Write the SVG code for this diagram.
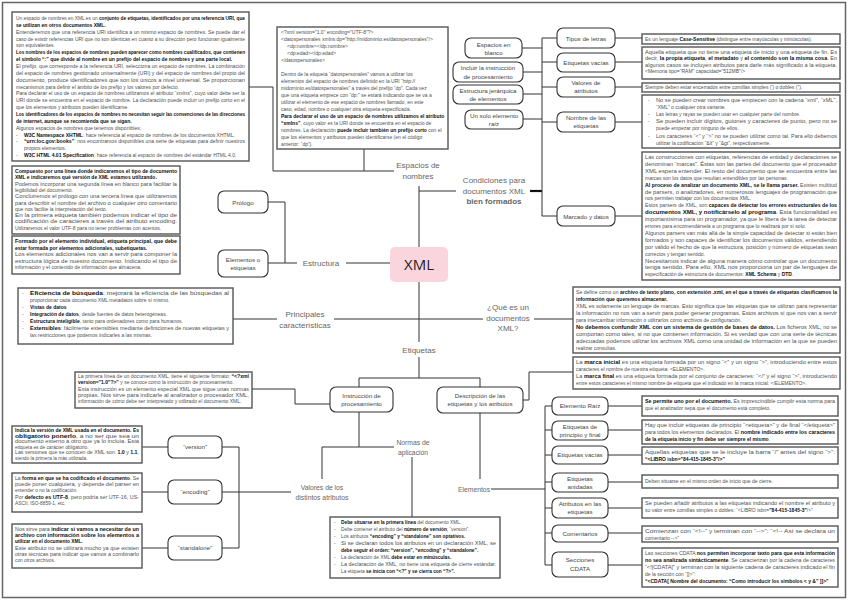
<svg xmlns="http://www.w3.org/2000/svg" width="848" height="600" viewBox="0 0 848 600">
<style>
.frame{fill:#fff;stroke:#666;stroke-width:1.5}
.d{fill:#fff;stroke:#555;stroke-width:1.4}
.n{fill:#fff;stroke:#333;stroke-width:1.1}
.c{fill:none;stroke:#333;stroke-width:1}
.t{font-family:"Liberation Sans",Arial,sans-serif;font-size:5px;fill:#505050}
.t5{font-family:"Liberation Sans",Arial,sans-serif;font-size:4.8px;fill:#505050}
.b{font-weight:bold;fill:#111}
.nt{font-family:"Liberation Sans",Arial,sans-serif;font-size:6.2px;fill:#444;text-anchor:middle}
.lb{font-family:"Liberation Sans",Arial,sans-serif;font-size:8px;fill:#666;text-anchor:middle}
.ls{font-family:"Liberation Sans",Arial,sans-serif;font-size:6.8px;fill:#666;text-anchor:middle}
</style>
<rect class="frame" x="2.5" y="2.5" width="843" height="595"/>

<g id="connectors" class="c">
<polyline points="249,87 273,87 273,171 394,171"/>
<line x1="364" y1="148" x2="364" y2="171"/>
<line x1="419" y1="186" x2="419" y2="247"/>
<line x1="419" y1="282" x2="419" y2="342"/>
<line x1="419" y1="191" x2="456" y2="191"/>
<line x1="530" y1="191" x2="542" y2="191" stroke-width="2.2" stroke="#111"/>
<line x1="542" y1="38" x2="542" y2="216"/>
<line x1="522" y1="48" x2="542" y2="48"/>
<line x1="523" y1="72" x2="542" y2="72"/>
<line x1="523" y1="94" x2="542" y2="94"/>
<line x1="523" y1="119" x2="542" y2="119"/>
<line x1="542" y1="38" x2="557" y2="38"/>
<line x1="542" y1="62" x2="557" y2="62"/>
<line x1="542" y1="87" x2="557" y2="87"/>
<line x1="542" y1="122" x2="557" y2="122"/>
<line x1="542" y1="216" x2="557" y2="216"/>
<line x1="615" y1="38" x2="642" y2="38"/>
<line x1="615" y1="62" x2="642" y2="62"/>
<line x1="615" y1="87" x2="642" y2="87"/>
<line x1="615" y1="122" x2="642" y2="122"/>
<line x1="615" y1="216" x2="642" y2="216"/>
<line x1="268" y1="202" x2="285" y2="202"/>
<line x1="285" y1="202" x2="285" y2="263"/>
<line x1="268" y1="263" x2="297" y2="263"/>
<line x1="346" y1="263" x2="390" y2="263"/>
<line x1="233" y1="319" x2="277" y2="319"/>
<line x1="334" y1="319" x2="483" y2="319"/>
<line x1="534" y1="319" x2="573" y2="319"/>
<line x1="419" y1="357" x2="419" y2="378"/>
<polyline points="359,387 359,378 480,378 480,387"/>
<polyline points="252,389 295,389 295,404 330,404"/>
<line x1="359" y1="412" x2="359" y2="447"/>
<line x1="322" y1="447" x2="394" y2="447"/>
<line x1="322" y1="447" x2="322" y2="479"/>
<line x1="412" y1="457" x2="412" y2="517"/>
<line x1="222" y1="492" x2="291" y2="492"/>
<line x1="239" y1="447" x2="239" y2="548"/>
<line x1="222" y1="447" x2="239" y2="447"/>
<line x1="222" y1="548" x2="239" y2="548"/>
<line x1="142" y1="447" x2="168" y2="447"/>
<line x1="142" y1="492" x2="168" y2="492"/>
<line x1="142" y1="548" x2="168" y2="548"/>
<polyline points="523,400 529,400 529,372 573,372"/>
<line x1="480" y1="413" x2="480" y2="479"/>
<line x1="491" y1="489" x2="545" y2="489"/>
<line x1="545" y1="406" x2="545" y2="565"/>
<line x1="545" y1="406" x2="552" y2="406"/>
<line x1="545" y1="430" x2="552" y2="430"/>
<line x1="545" y1="455" x2="552" y2="455"/>
<line x1="545" y1="482" x2="552" y2="482"/>
<line x1="545" y1="508" x2="552" y2="508"/>
<line x1="545" y1="533" x2="552" y2="533"/>
<line x1="545" y1="565" x2="552" y2="565"/>
<line x1="608" y1="406" x2="642" y2="406"/>
<line x1="608" y1="430" x2="642" y2="430"/>
<line x1="608" y1="455" x2="642" y2="455"/>
<line x1="608" y1="482" x2="642" y2="482"/>
<line x1="608" y1="508" x2="642" y2="508"/>
<line x1="608" y1="533" x2="642" y2="533"/>
<line x1="608" y1="565" x2="642" y2="565"/>
</g>

<g id="xml">
<rect x="390" y="247" width="58" height="35" rx="5" fill="#fad5dd"/>
<text x="419" y="270" font-family="Open Sans,Liberation Sans,sans-serif" font-size="15" fill="#222" text-anchor="middle">XML</text>
</g>

<g id="labels">
<text class="lb" x="418" y="168">Espacios de</text><text class="lb" x="418" y="178.5">nombres</text>
<text class="lb" x="494" y="183">Condiciones para</text><text class="lb" x="494" y="193.5">documentos XML</text><text class="lb" x="494" y="204" font-weight="bold" fill="#111">bien formados</text>
<text class="lb" x="321" y="266">Estructura</text>
<text class="lb" x="305" y="317">Principales</text><text class="lb" x="305" y="327.5">características</text>
<text class="lb" x="508" y="310">¿Qué es un</text><text class="lb" x="508" y="320.5">documentos</text><text class="lb" x="508" y="331">XML?</text>
<text class="lb" x="419" y="353" font-size="8.5">Etiquetas</text>
<text class="ls" x="413" y="445">Normas de</text><text class="ls" x="413" y="454.5">aplicación</text>
<text class="ls" x="322" y="490">Valores de los</text><text class="ls" x="322" y="499.5">distintos atributos</text>
<text class="ls" x="474" y="491.5">Elementos</text>
</g>

<g id="n-prologo"><rect class="n" x="218" y="191" width="50" height="22" rx="6"/><text class="nt" x="243" y="204.5">Prólogo</text></g>
<g id="n-elem-etiq"><rect class="n" x="218" y="250" width="50" height="27" rx="6"/><text class="nt" x="243" y="261.5">Elementos o</text><text class="nt" x="243" y="270">etiquetas</text></g>
<g id="n-espacios"><rect class="n" x="465" y="38" width="57" height="20" rx="6"/><text class="nt" x="493.5" y="46.5">Espacios en</text><text class="nt" x="493.5" y="54.5">blanco</text></g>
<g id="n-incluir"><rect class="n" x="453" y="62" width="70" height="20" rx="6"/><text class="nt" x="488" y="70">Incluir la instrucción</text><text class="nt" x="488" y="78.5">de procesamiento</text></g>
<g id="n-jerarquica"><rect class="n" x="453" y="85" width="70" height="19" rx="6"/><text class="nt" x="488" y="92.5">Estructura jerárquica</text><text class="nt" x="488" y="100.5">de elementos</text></g>
<g id="n-raiz1"><rect class="n" x="465" y="110" width="58" height="19" rx="6"/><text class="nt" x="494" y="117.5">Un solo elemento</text><text class="nt" x="494" y="125.5">raíz</text></g>
<g id="n-tipos"><rect class="n" x="557" y="28" width="58" height="20" rx="6"/><text class="nt" x="586" y="40.5">Tipos de letras</text></g>
<g id="n-vacias1"><rect class="n" x="557" y="53" width="58" height="19" rx="6"/><text class="nt" x="586" y="64.5">Etiquetas vacías</text></g>
<g id="n-valores"><rect class="n" x="557" y="77" width="58" height="20" rx="6"/><text class="nt" x="586" y="85">Valores de</text><text class="nt" x="586" y="93">atributos</text></g>
<g id="n-nombre"><rect class="n" x="557" y="112" width="58" height="20" rx="6"/><text class="nt" x="586" y="120">Nombre de las</text><text class="nt" x="586" y="128">etiquetas</text></g>
<g id="n-marcado"><rect class="n" x="557" y="206" width="58" height="20" rx="6"/><text class="nt" x="586" y="218.5">Marcado y datos</text></g>
<g id="n-instruccion"><rect class="n" x="330" y="387" width="63" height="25" rx="6"/><text class="nt" x="361.5" y="397.5">Instrucción de</text><text class="nt" x="361.5" y="405.5">procesamiento</text></g>
<g id="n-descripcion"><rect class="n" x="437" y="387" width="86" height="26" rx="6"/><text class="nt" x="480" y="397.5">Descripción de las</text><text class="nt" x="480" y="406">etiquetas y los atributos</text></g>
<g id="n-version"><rect class="n" x="168" y="436" width="54" height="22" rx="6"/><text class="nt" x="195" y="449">“version”</text></g>
<g id="n-encoding"><rect class="n" x="168" y="480" width="54" height="24" rx="6"/><text class="nt" x="195" y="494">“encoding”</text></g>
<g id="n-standalone"><rect class="n" x="168" y="536" width="54" height="24" rx="6"/><text class="nt" x="195" y="550">“standalone”</text></g>
<g id="n-raiz"><rect class="n" x="552" y="397" width="56" height="18" rx="6"/><text class="nt" x="580" y="408">Elemento Raíz</text></g>
<g id="n-principio"><rect class="n" x="552" y="421" width="56" height="19" rx="6"/><text class="nt" x="580" y="428.5">Etiquetas de</text><text class="nt" x="580" y="436.5">principio y final</text></g>
<g id="n-vacias2"><rect class="n" x="552" y="446" width="56" height="18" rx="6"/><text class="nt" x="580" y="457">Etiquetas vacías</text></g>
<g id="n-anidadas"><rect class="n" x="552" y="473" width="56" height="19" rx="6"/><text class="nt" x="580" y="480.5">Etiquetas</text><text class="nt" x="580" y="488.5">anidadas</text></g>
<g id="n-atributos"><rect class="n" x="552" y="498" width="56" height="20" rx="6"/><text class="nt" x="580" y="506">Atributos en las</text><text class="nt" x="580" y="514">etiquetas</text></g>
<g id="n-comentarios"><rect class="n" x="552" y="525" width="56" height="17" rx="6"/><text class="nt" x="580" y="535.5">Comentarios</text></g>
<g id="n-cdata"><rect class="n" x="552" y="552" width="56" height="25" rx="6"/><text class="nt" x="580" y="562">Secciones</text><text class="nt" x="580" y="571">CDATA</text></g>

<g id="d-namespace">
<rect class="d" x="12" y="12" width="237" height="149"/>
<text class="t" x="16" y="20" textLength="229" lengthAdjust="spacingAndGlyphs">Un espacio de nombres en XML es un <tspan class="b">conjunto de etiquetas, identificados por una referencia URI, que</tspan></text>
<text class="t" x="16" y="26.9"><tspan class="b">se utilizan en otros documentos XML.</tspan></text>
<text class="t" x="16" y="33.7" textLength="229" lengthAdjust="spacingAndGlyphs">Entenderemos que una referencia URI identifica a un mismo espacio de nombres. Se puede dar el</text>
<text class="t" x="16" y="40.6" textLength="229" lengthAdjust="spacingAndGlyphs">caso de existir referencias URI que no son idénticas en cuanto a su dirección pero funcionan igualmente</text>
<text class="t" x="16" y="47.4">son equivalentes.</text>
<text class="t" x="16" y="54.3" textLength="229" lengthAdjust="spacingAndGlyphs"><tspan class="b">Los nombres de los espacios de nombres pueden aparecer como nombres cualificados, que contienen</tspan></text>
<text class="t" x="16" y="61.1"><tspan class="b">el símbolo “:” que divide al nombre en un prefijo del espacio de nombres y una parte local.</tspan></text>
<text class="t" x="16" y="68" textLength="229" lengthAdjust="spacingAndGlyphs">El prefijo, que corresponde a la referencia URI, selecciona un espacio de nombres. La combinación</text>
<text class="t" x="16" y="74.8" textLength="229" lengthAdjust="spacingAndGlyphs">del espacio de nombres gestionado universalmente (URI) y del espacio de nombres del propio del</text>
<text class="t" x="16" y="81.7" textLength="229" lengthAdjust="spacingAndGlyphs">documento, produce identificadores que son los únicos a nivel universal. Se proporcionan</text>
<text class="t" x="16" y="88.5">mecanismos para definir el ámbito de los prefijo y los valores por defecto.</text>
<text class="t" x="16" y="95.4" textLength="229" lengthAdjust="spacingAndGlyphs">Para declarar el uso de un espacio de nombres utilizamos el atributo “xmlns”, cuyo valor debe ser la</text>
<text class="t" x="16" y="102.2" textLength="229" lengthAdjust="spacingAndGlyphs">URI donde se encuentra en el espacio de nombre. La declaración puede incluir un prefijo corto en el</text>
<text class="t" x="16" y="109.1">que los elementos y atributos pueden identificarse.</text>
<text class="t" x="16" y="115.9" textLength="229" lengthAdjust="spacingAndGlyphs"><tspan class="b">Los identificadores de los espacios de nombres no necesitan seguir las convenciones de las direcciones</tspan></text>
<text class="t" x="16" y="122.8"><tspan class="b">de internet, aunque se recomienda que se sigan.</tspan></text>
<text class="t" x="16" y="129.6">Algunos espacios de nombres que tenemos disponibles:</text>
<text class="t" x="16" y="136.5">-</text><text class="t" x="24" y="136.5"><tspan class="b">W3C Namespace XHTML</tspan>: hace referencia al espacio de nombres de los documentos XHTML.</text>
<text class="t" x="16" y="143.3">-</text><text class="t" x="24" y="143.3" textLength="221" lengthAdjust="spacingAndGlyphs"><tspan class="b">“urn:loc.gov:books”</tspan>: nos encontramos disponibles una serie de etiquetas para definir nuestros</text>
<text class="t" x="24" y="150.2">propios elementos.</text>
<text class="t" x="16" y="157">-</text><text class="t" x="24" y="157"><tspan class="b">W3C HTML 4.01 Specification</tspan>: hace referencia al espacio de nombres del estándar HTML 4.0.</text>
</g>

<g id="d-code">
<rect class="d" x="277" y="27" width="171" height="122"/>
<text class="t" x="281" y="34">&lt;?xml version="1.0" encoding="UTF-8"?&gt;</text>
<text class="t" x="281" y="41">&lt;datospersonales xmlns:dp="http://midominio.es/datospersonales"/&gt;</text>
<text class="t" x="287" y="48">&lt;dp:nombre&gt;&lt;/dp:nombre&gt;</text>
<text class="t" x="287" y="55">&lt;dp:edad&gt;&lt;/dp:edad&gt;</text>
<text class="t" x="281" y="62">&lt;/datospersonales&gt;</text>
<text class="t" x="281" y="76">Dentro de la etiqueta “datospersonales” vamos a utilizar los</text>
<text class="t" x="281" y="83">elementos del espacio de nombres definido en la URI “http://</text>
<text class="t" x="281" y="90">midominio.es/datospersonales” a través del prefijo “dp”. Cada vez</text>
<text class="t" x="281" y="97">que una etiqueta empiece con “dp:” se estará indicando que se va a</text>
<text class="t" x="281" y="104">utilizar el elemento de ese espacio de nombres llamado, en este</text>
<text class="t" x="281" y="111">caso, edad, nombre o cualquier otra etiqueta especificada.</text>
<text class="t" x="281" y="118"><tspan class="b">Para declarar el uso de un espacio de nombres utilizamos el atributo</tspan></text>
<text class="t" x="281" y="125"><tspan class="b">“xmlns”</tspan>, cuyo valor es la URI donde se encuentra en el espacio de</text>
<text class="t" x="281" y="132">nombres. La declaración <tspan class="b">puede incluir también un prefijo corto</tspan> con el</text>
<text class="t" x="281" y="139">que los elementos y atributos pueden identificarse (en el código</text>
<text class="t" x="281" y="146">anterior: “dp”).</text>
</g>

<g id="d-prologo">
<rect class="d" x="12" y="166" width="168" height="68"/>
<text class="t" x="15" y="173" textLength="162" lengthAdjust="spacingAndGlyphs"><tspan class="b">Compuesto por una línea donde indicaremos el tipo de documento</tspan></text>
<text class="t" x="15" y="179.3"><tspan class="b">XML e indicaremos qué versión de XML estamos utilizando.</tspan></text>
<text class="t" x="15" y="185.6" textLength="162" lengthAdjust="spacingAndGlyphs">Podemos incorporar una segunda línea en blanco para facilitar la</text>
<text class="t" x="15" y="191.9">legibilidad del documento.</text>
<text class="t" x="15" y="198.2" textLength="162" lengthAdjust="spacingAndGlyphs">Concluiremos el prólogo con una tercera línea que utilizaremos</text>
<text class="t" x="15" y="204.5" textLength="162" lengthAdjust="spacingAndGlyphs">para describir el nombre del archivo o cualquier otro comentario</text>
<text class="t" x="15" y="210.8">que nos facilite la interpretación del texto.</text>
<text class="t" x="15" y="217.1" textLength="162" lengthAdjust="spacingAndGlyphs">En la primera etiqueta también podemos indicar el tipo de</text>
<text class="t" x="15" y="223.4" textLength="162" lengthAdjust="spacingAndGlyphs">codificación de caracteres a través del atributo encoding.</text>
<text class="t" x="15" y="229.7">Utilizaremos el valor UTF-8 para no tener problemas con acentos.</text>
</g>

<g id="d-elementos">
<rect class="d" x="12" y="236" width="168" height="38"/>
<text class="t" x="15" y="243" textLength="162" lengthAdjust="spacingAndGlyphs"><tspan class="b">Formado por el elemento individual, etiqueta principal, que debe</tspan></text>
<text class="t" x="15" y="249.5"><tspan class="b">estar formada por elementos adicionales, subetiquetas.</tspan></text>
<text class="t" x="15" y="256" textLength="162" lengthAdjust="spacingAndGlyphs">Los elementos adicionales nos van a servir para componer la</text>
<text class="t" x="15" y="262.5" textLength="162" lengthAdjust="spacingAndGlyphs">estructura lógica de nuestro documento. Indicando el tipo de</text>
<text class="t" x="15" y="269">información y el contenido de información que almacena.</text>
</g>

<g id="d-principales">
<rect class="d" x="18" y="288" width="215" height="56"/>
<text class="t" x="22" y="295">-</text><text class="t" x="30" y="295" textLength="199" lengthAdjust="spacingAndGlyphs"><tspan class="b">Eficiencia de búsqueda</tspan>: mejorará la eficiencia de las búsquedas al</text>
<text class="t" x="30" y="302">proporcionar cada documento XML metadatos sobre sí mismo.</text>
<text class="t" x="22" y="309">-</text><text class="t" x="30" y="309"><tspan class="b">Vistas de datos</tspan></text>
<text class="t" x="22" y="316">-</text><text class="t" x="30" y="316"><tspan class="b">Integración de datos</tspan>, desde fuentes de datos heterogéneas.</text>
<text class="t" x="22" y="323">-</text><text class="t" x="30" y="323"><tspan class="b">Estructura inteligible</tspan>, tanto para ordenadores como para humanos.</text>
<text class="t" x="22" y="330">-</text><text class="t" x="30" y="330" textLength="199" lengthAdjust="spacingAndGlyphs"><tspan class="b">Extensibles</tspan>: fácilmente extensibles mediante definiciones de nuevas etiquetas y</text>
<text class="t" x="30" y="337">las restricciones que podemos indicarles a las mismas.</text>
</g>

<g id="d-instruccion">
<rect class="d" x="75" y="372" width="177" height="36"/>
<text class="t" x="78" y="378" textLength="171" lengthAdjust="spacingAndGlyphs">La primera línea de un documento XML, tiene el siguiente formato: <tspan class="b">“&lt;?xml</tspan></text>
<text class="t" x="78" y="384.3"><tspan class="b">version="1.0"?&gt;”</tspan> y se conoce como la instrucción de procesamiento.</text>
<text class="t" x="78" y="390.6" textLength="171" lengthAdjust="spacingAndGlyphs">Esta instrucción es un elemento especial XML que sigue unas normas</text>
<text class="t" x="78" y="396.9" textLength="171" lengthAdjust="spacingAndGlyphs">propias. Nos sirve para indicarle al analizador o procesador XML,</text>
<text class="t" x="78" y="403.2">información de cómo debe ser interpretado y utilizado el documento XML.</text>
</g>

<g id="d-version">
<rect class="d" x="12" y="426" width="130" height="37"/>
<text class="t5" x="15" y="432" textLength="124" lengthAdjust="spacingAndGlyphs"><tspan class="b">Indica la versión de XML usada en el documento. Es</tspan></text>
<text class="t5" x="15" y="437.6" textLength="124" lengthAdjust="spacingAndGlyphs"><tspan class="b">obligatorio ponerlo</tspan>, a no ser que sea un</text>
<text class="t5" x="15" y="443.2" textLength="124" lengthAdjust="spacingAndGlyphs">documento externo a otro que ya lo incluía. Esta</text>
<text class="t5" x="15" y="448.8">etiqueta es de carácter obligatorio.</text>
<text class="t5" x="15" y="454.4" textLength="124" lengthAdjust="spacingAndGlyphs">Las versiones que se conocen de XML son: <tspan class="b">1.0</tspan> y <tspan class="b">1.1</tspan>,</text>
<text class="t5" x="15" y="460">siendo la primera la más utilizada.</text>
</g>

<g id="d-encoding">
<rect class="d" x="12" y="473" width="130" height="39"/>
<text class="t5" x="15" y="480" textLength="124" lengthAdjust="spacingAndGlyphs">La <tspan class="b">forma en que se ha codificado el documento</tspan>. Se</text>
<text class="t5" x="15" y="486.2" textLength="124" lengthAdjust="spacingAndGlyphs">puede poner cualquiera, y depende del parser en</text>
<text class="t5" x="15" y="492.4">entender o no la codificación.</text>
<text class="t5" x="15" y="498.6" textLength="124" lengthAdjust="spacingAndGlyphs">Por <tspan class="b">defecto es UTF-8</tspan>, pero podría ser UTF-16, US-</text>
<text class="t5" x="15" y="504.8">ASCII, ISO-8859-1, etc.</text>
</g>

<g id="d-standalone">
<rect class="d" x="12" y="524" width="130" height="44"/>
<text class="t5" x="15" y="531" textLength="124" lengthAdjust="spacingAndGlyphs">Nos sirve para <tspan class="b">indicar si vamos a necesitar de un</tspan></text>
<text class="t5" x="15" y="537.2" textLength="124" lengthAdjust="spacingAndGlyphs"><tspan class="b">archivo con información sobre los elementos a</tspan></text>
<text class="t5" x="15" y="543.4"><tspan class="b">utilizar en el documento XML.</tspan></text>
<text class="t5" x="15" y="549.6" textLength="124" lengthAdjust="spacingAndGlyphs">Este atributo no se utilizará mucho ya que existen</text>
<text class="t5" x="15" y="555.8" textLength="124" lengthAdjust="spacingAndGlyphs">otras técnicas para indicar que vamos a combinarlo</text>
<text class="t5" x="15" y="562">con otros archivos.</text>
</g>

<g id="d-normas">
<rect class="d" x="330" y="517" width="170" height="61"/>
<text class="t5" x="334" y="524">-</text><text class="t5" x="341" y="524"><tspan class="b">Debe situarse en la primera línea</tspan> del documento XML.</text>
<text class="t5" x="334" y="531">-</text><text class="t5" x="341" y="531">Debe contener el atributo del <tspan class="b">número de versión</tspan>, “version”.</text>
<text class="t5" x="334" y="538">-</text><text class="t5" x="341" y="538">Los atributos <tspan class="b">“encoding” y “standalone” son optativos.</tspan></text>
<text class="t5" x="334" y="545">-</text><text class="t5" x="341" y="545" textLength="155" lengthAdjust="spacingAndGlyphs">Si se declaran todos los atributos en un declaración XML, se</text>
<text class="t5" x="341" y="552"><tspan class="b">debe seguir el orden: “version”, “encoding” y “standalone”.</tspan></text>
<text class="t5" x="334" y="559">-</text><text class="t5" x="341" y="559">La declaración de XML <tspan class="b">debe estar en minúsculas.</tspan></text>
<text class="t5" x="334" y="566">-</text><text class="t5" x="341" y="566" textLength="155" lengthAdjust="spacingAndGlyphs">La declaración de XML, no tiene una etiqueta de cierre estándar.</text>
<text class="t5" x="341" y="573">La etiqueta <tspan class="b">se inicia con “&lt;?” y se cierra con “?&gt;”.</tspan></text>
</g>

<g id="d-case">
<rect class="d" x="642" y="34" width="198" height="10"/>
<text class="t" x="645" y="40.8">Es un lenguaje <tspan class="b">Case-Sensitive</tspan> (distingue entre mayúsculas y minúsculas).</text>
</g>

<g id="d-vacias1">
<rect class="d" x="642" y="47" width="198" height="32"/>
<text class="t" x="645" y="53.5" textLength="192" lengthAdjust="spacingAndGlyphs">Aquella etiqueta que no tiene una etiqueta de inicio y una etiqueta de fin. Es</text>
<text class="t" x="645" y="60.1" textLength="192" lengthAdjust="spacingAndGlyphs">decir, <tspan class="b">la propia etiqueta</tspan>, <tspan class="b">el metadato</tspan> y <tspan class="b">el contenido son la misma cosa</tspan>. En</text>
<text class="t" x="645" y="66.7" textLength="192" lengthAdjust="spacingAndGlyphs">algunos casos se incluyen atributos para darle más significado a la etiqueta.</text>
<text class="t" x="645" y="73.3">&lt;Memoria tipo="RAM" capacidad="512MB"/&gt;</text>
</g>

<g id="d-valores">
<rect class="d" x="642" y="83" width="198" height="9"/>
<text class="t" x="645" y="89.4">Siempre deben estar encerrados entre comillas simples (') o dobles (").</text>
</g>

<g id="d-nombre">
<rect class="d" x="642" y="95" width="198" height="53"/>
<text class="t" x="648" y="101.6">-</text><text class="t" x="656" y="101.6" textLength="181" lengthAdjust="spacingAndGlyphs">No se pueden crear nombres que empiecen con la cadena “xml”, “xML”,</text>
<text class="t" x="656" y="108.8">“XML” o cualquier otra variante.</text>
<text class="t" x="648" y="116">-</text><text class="t" x="656" y="116">Las letras y rayas se pueden usar en cualquier parte del nombre.</text>
<text class="t" x="648" y="123.2">-</text><text class="t" x="656" y="123.2" textLength="181" lengthAdjust="spacingAndGlyphs">Se pueden incluir dígitos, guiones y caracteres de punto, pero no se</text>
<text class="t" x="656" y="130.4">puede empezar por ninguno de ellos.</text>
<text class="t" x="648" y="137.6">-</text><text class="t" x="656" y="137.6" textLength="181" lengthAdjust="spacingAndGlyphs">Los caracteres “&lt;” y “&gt;” no se pueden utilizar como tal. Para ello debemos</text>
<text class="t" x="656" y="144.8">utilizar la codificación “&amp;lt” y “&amp;gt”, respectivamente.</text>
</g>

<g id="d-marcado">
<rect class="d" x="642" y="152" width="198" height="128"/>
<text class="t" x="645" y="159" textLength="192" lengthAdjust="spacingAndGlyphs">Las construcciones con etiquetas, referencias de entidad y declaraciones se</text>
<text class="t" x="645" y="165.9" textLength="192" lengthAdjust="spacingAndGlyphs">denominan “marcas”. Éstas son las partes del documento que el procesador</text>
<text class="t" x="645" y="172.8" textLength="192" lengthAdjust="spacingAndGlyphs">XML espera entender. El resto del documento que se encuentra entre las</text>
<text class="t" x="645" y="179.7">marcas son los datos que resultan entendibles por las personas.</text>
<text class="t" x="645" y="186.6" textLength="192" lengthAdjust="spacingAndGlyphs"><tspan class="b">Al proceso de analizar un documento XML, se le llama parser.</tspan> Existen multitud</text>
<text class="t" x="645" y="193.5" textLength="192" lengthAdjust="spacingAndGlyphs">de parsers, o analizadores, en numerosos lenguajes de programación que</text>
<text class="t" x="645" y="200.4">nos permiten trabajar con los documentos XML.</text>
<text class="t" x="645" y="207.3" textLength="192" lengthAdjust="spacingAndGlyphs">Estos parsers de XML, son <tspan class="b">capaces de detectar los errores estructurales de los</tspan></text>
<text class="t" x="645" y="214.2" textLength="192" lengthAdjust="spacingAndGlyphs"><tspan class="b">documentos XML, y notificárselo al programa</tspan>. Esta funcionalidad es</text>
<text class="t" x="645" y="221.1" textLength="192" lengthAdjust="spacingAndGlyphs">importantísima para un programador, ya que le libera de la tarea de detectar</text>
<text class="t" x="645" y="228">errores para encomendársela a un programa que lo realizará por sí solo.</text>
<text class="t" x="645" y="234.9" textLength="192" lengthAdjust="spacingAndGlyphs">Algunos parsers van más allá de la simple capacidad de detectar si están bien</text>
<text class="t" x="645" y="241.8" textLength="192" lengthAdjust="spacingAndGlyphs">formados y son capaces de identificar los documentos válidos, entendiendo</text>
<text class="t" x="645" y="248.7" textLength="192" lengthAdjust="spacingAndGlyphs">por válido el hecho de que la estructura, posición y número de etiquetas sean</text>
<text class="t" x="645" y="255.6">correctos y tengan sentido.</text>
<text class="t" x="645" y="262.5" textLength="192" lengthAdjust="spacingAndGlyphs">Necesitamos indicar de alguna manera cómo controlar que un documento</text>
<text class="t" x="645" y="269.4" textLength="192" lengthAdjust="spacingAndGlyphs">tenga sentido. Para ello, XML nos proporciona un par de lenguajes de</text>
<text class="t" x="645" y="276.3">especificación de estructura de documentos: <tspan class="b">XML Schema</tspan> y <tspan class="b">DTD</tspan>.</text>
</g>

<g id="d-quees">
<rect class="d" x="573" y="287" width="267" height="66"/>
<text class="t" x="576" y="293.5" textLength="261" lengthAdjust="spacingAndGlyphs">Se define como un <tspan class="b">archivo de texto plano, con extensión .xml, en el que a través de etiquetas clasificamos la</tspan></text>
<text class="t" x="576" y="300.5"><tspan class="b">información que queremos almacenar.</tspan></text>
<text class="t" x="576" y="307.5" textLength="261" lengthAdjust="spacingAndGlyphs">XML es solamente un lenguaje de marcas. Esto significa que las etiquetas que se utilizan para representar</text>
<text class="t" x="576" y="314.5" textLength="261" lengthAdjust="spacingAndGlyphs">la información no nos van a servir para poder generar programas. Estos archivos sí que nos van a servir</text>
<text class="t" x="576" y="321.5">para intercambiar información o utilizarlos como archivos de configuración.</text>
<text class="t" x="576" y="328.5" textLength="261" lengthAdjust="spacingAndGlyphs"><tspan class="b">No debemos confundir XML con un sistema de gestión de bases de datos.</tspan> Los ficheros XML, no se</text>
<text class="t" x="576" y="335.5" textLength="261" lengthAdjust="spacingAndGlyphs">comportan como tales, si no que contienen información. Si es verdad que con una serie de técnicas</text>
<text class="t" x="576" y="342.5" textLength="261" lengthAdjust="spacingAndGlyphs">adecuadas podemos utilizar los archivos XML como una unidad de información en la que se pueden</text>
<text class="t" x="576" y="349.5">realizar consultas.</text>
</g>

<g id="d-marcas">
<rect class="d" x="573" y="357" width="267" height="32"/>
<text class="t" x="576" y="363.5" textLength="261" lengthAdjust="spacingAndGlyphs">La <tspan class="b">marca inicial</tspan> es una etiqueta formada por un signo “&lt;” y un signo “&gt;”, introduciendo entre estos</text>
<text class="t" x="576" y="370.5">caracteres el nombre de nuestra etiqueta: &lt;ELEMENTO&gt;.</text>
<text class="t" x="576" y="377.5" textLength="261" lengthAdjust="spacingAndGlyphs">La <tspan class="b">marca final</tspan> es una etiqueta formada por el conjunto de caracteres: “&lt;/” y el signo “&gt;”, introduciendo</text>
<text class="t" x="576" y="384.5">entre estos caracteres el mismo nombre de etiqueta que el indicado en la marca inicial: &lt;/ELEMENTO&gt;.</text>
</g>

<g id="d-raiz">
<rect class="d" x="642" y="396" width="196" height="20"/>
<text class="t" x="645" y="402.5" textLength="190" lengthAdjust="spacingAndGlyphs"><tspan class="b">Se permite uno por el documento.</tspan> Es imprescindible cumplir esta norma para</text>
<text class="t" x="645" y="409.5">que el analizador sepa que el documento está completo.</text>
</g>

<g id="d-principio">
<rect class="d" x="642" y="420" width="196" height="24"/>
<text class="t" x="645" y="426.5" textLength="190" lengthAdjust="spacingAndGlyphs">Hay que incluir etiquetas de principio “&lt;etiqueta&gt;” y de final “&lt;/etiqueta&gt;”</text>
<text class="t" x="645" y="433.5" textLength="190" lengthAdjust="spacingAndGlyphs">para todos los elementos declarados. El <tspan class="b">nombre indicado entre los caracteres</tspan></text>
<text class="t" x="645" y="440.5"><tspan class="b">de la etiqueta inicio y fin debe ser siempre el mismo</tspan>.</text>
</g>

<g id="d-vacias2">
<rect class="d" x="642" y="447" width="196" height="17"/>
<text class="t" x="645" y="453.5" textLength="190" lengthAdjust="spacingAndGlyphs">Aquellas etiquetas que se le incluye la barra “/” antes del signo “&gt;”:</text>
<text class="t" x="645" y="460.5"><tspan class="b">“&lt;LIBRO isbn="84-415-1845-3"/&gt;”</tspan></text>
</g>

<g id="d-anidadas">
<rect class="d" x="642" y="475" width="196" height="13"/>
<text class="t" x="645" y="483.3">Deben situarse en el mismo orden de inicio que de cierre.</text>
</g>

<g id="d-atributos">
<rect class="d" x="642" y="498" width="196" height="20"/>
<text class="t" x="645" y="505" textLength="190" lengthAdjust="spacingAndGlyphs">Se pueden añadir atributos a las etiquetas indicando el nombre el atributo y</text>
<text class="t" x="645" y="512">su valor entre comillas simples o dobles: “&lt;LIBRO isbn=<tspan class="b">"84-415-1845-3"</tspan>/&gt;”</text>
</g>

<g id="d-comentarios">
<rect class="d" x="642" y="526" width="196" height="16"/>
<text class="t" x="645" y="532.5" textLength="190" lengthAdjust="spacingAndGlyphs">Comienzan con “&lt;!--” y terminan con “--&gt;”: “&lt;!-- Así se declara un</text>
<text class="t" x="645" y="539.5">comentario --&gt;”</text>
</g>

<g id="d-cdata">
<rect class="d" x="642" y="548" width="196" height="39"/>
<text class="t" x="645" y="554.5" textLength="190" lengthAdjust="spacingAndGlyphs">Las secciones CDATA <tspan class="b">nos permiten incorporar texto para que esta información</tspan></text>
<text class="t" x="645" y="561.5" textLength="190" lengthAdjust="spacingAndGlyphs"><tspan class="b">no sea analizada sintácticamente</tspan>. Se caracterizan por la cadena de caracteres</text>
<text class="t" x="645" y="568.5" textLength="190" lengthAdjust="spacingAndGlyphs">“&lt;![CDATA[” y terminan con la siguiente cadena de caracteres indicado el fin</text>
<text class="t" x="645" y="575.5">de la sección con “]]&gt;”:</text>
<text class="t" x="645" y="582.5"><tspan class="b">“&lt;CDATA[ Nombre del documento: “Como introducir los símbolos &lt; y &amp;” ]]&gt;”</tspan></text>
</g>
</svg>
